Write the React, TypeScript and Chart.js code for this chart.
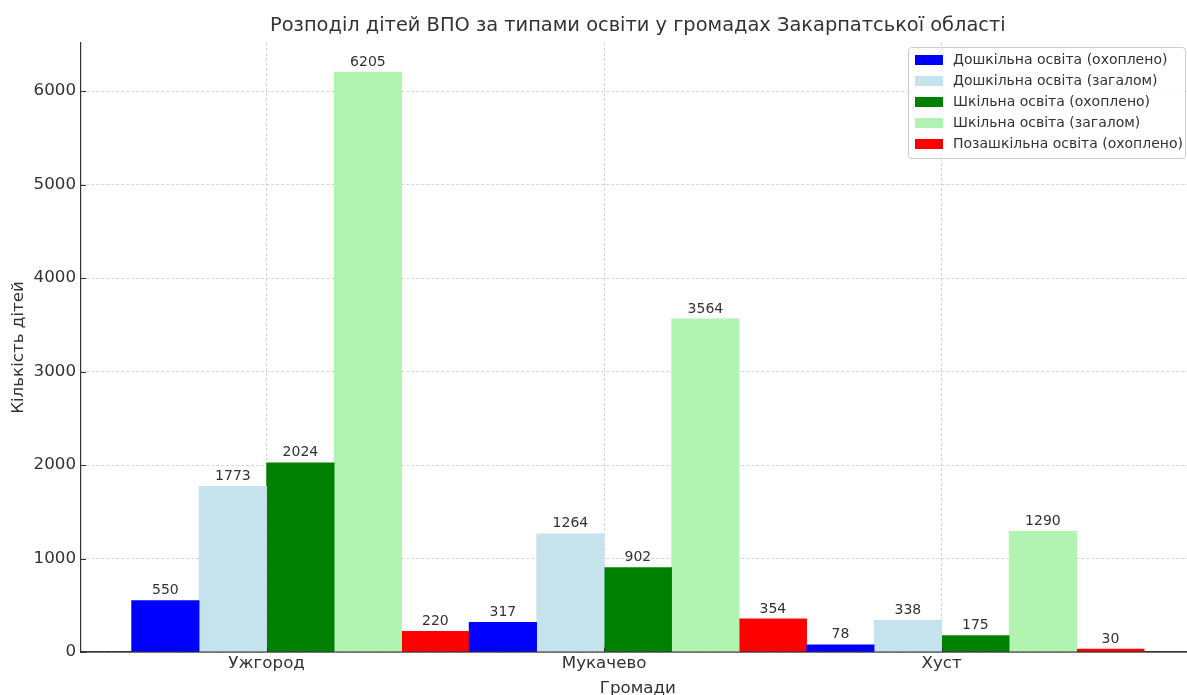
import React, { useEffect, useRef } from 'react';
import { Chart, registerables } from 'chart.js';

Chart.register(...registerables);

const chartTitle = 'Розподіл дітей ВПО за типами освіти у громадах Закарпатської області';
const xAxisTitle = 'Громади';
const yAxisTitle = 'Кількість дітей';

const categories = ['Ужгород', 'Мукачево', 'Хуст'];
const seriesNames = [
  'Дошкільна освіта (охоплено)',
  'Дошкільна освіта (загалом)',
  'Шкільна освіта (охоплено)',
  'Шкільна освіта (загалом)',
  'Позашкільна освіта (охоплено)',
];
const preschoolCovered = [550, 317, 78];
const preschoolTotal = [1773, 1264, 338];
const schoolCovered = [2024, 902, 175];
const schoolTotal = [6205, 3564, 1290];
const extracurricularCovered = [220, 354, 30];
const yTickValues = [0, 1000, 2000, 3000, 4000, 5000, 6000];
const seriesColors = ['#0000ff', '#c5e3ed', '#008000', '#b1f3b1', '#ff0000'];

const seriesValues = [preschoolCovered, preschoolTotal, schoolCovered, schoolTotal, extracurricularCovered];

const FONT = '"DejaVu Sans", sans-serif';
const TEXT = '#333333';
const X_MIN = -0.55;
const X_FULL_MAX = categories.length - 1 + 0.75; // matplotlib axis extent (partly cropped)
const X_VISIBLE_MAX = categories.length - 1 + 0.727;

export default function App() {
  const ref = useRef<HTMLCanvasElement>(null);

  useEffect(() => {
    const canvas = ref.current;
    if (!canvas) return;
    const n = seriesValues.length;
    const barWidth = 1 / n;
    const allMax = Math.max(...seriesValues.flat());

    const datasets = seriesValues.map((vals, k) => ({
      label: seriesNames[k],
      data: vals.map((v, i) => ({ x: i + (k - (n - 1) / 2 + 0.5) * barWidth, y: v })),
      backgroundColor: seriesColors[k],
      borderWidth: 0,
      grouped: false,
      barPercentage: 1,
      categoryPercentage: 1,
    }));

    const overlay = {
      id: 'overlay',
      afterDatasetsDraw(chart: any) {
        const ctx = chart.ctx;
        const area = chart.chartArea;
        const xs = chart.scales.x;
        const ys = chart.scales.y;
        ctx.save();
        // bottom spine over bars
        ctx.strokeStyle = TEXT;
        ctx.lineWidth = 1.2;
        ctx.beginPath();
        ctx.moveTo(area.left, area.bottom);
        ctx.lineTo(area.right, area.bottom);
        ctx.stroke();
        // inward tick marks
        ctx.lineWidth = 1;
        ctx.beginPath();
        xs.ticks.forEach((t: any) => {
          const px = Math.round(xs.getPixelForValue(t.value)) + 0.5;
          ctx.moveTo(px, area.bottom);
          ctx.lineTo(px, area.bottom - 4.5);
        });
        ys.ticks.forEach((t: any) => {
          const py = Math.round(ys.getPixelForValue(t.value)) + 0.5;
          ctx.moveTo(area.left, py);
          ctx.lineTo(area.left + 5, py);
        });
        ctx.stroke();

        // value labels
        ctx.font = `14px ${FONT}`;
        ctx.fillStyle = TEXT;
        ctx.textAlign = 'center';
        ctx.textBaseline = 'bottom';
        chart.data.datasets.forEach((_ds: any, k: number) => {
          const meta = chart.getDatasetMeta(k);
          meta.data.forEach((el: any, i: number) => {
            ctx.fillText(String(seriesValues[k][i]), el.x, el.y - 3);
          });
        });
        ctx.restore();
      },
      afterDraw(chart: any) {
        const ctx = chart.ctx;
        const area = chart.chartArea;
        const xs = chart.scales.x;
        const cx = xs.getPixelForValue((X_MIN + X_FULL_MAX) / 2);
        ctx.save();
        // title
        ctx.font = `19.4px ${FONT}`;
        ctx.fillStyle = TEXT;
        ctx.textAlign = 'center';
        ctx.textBaseline = 'alphabetic';
        ctx.fillText(chartTitle, cx, 31);

        // x axis title
        ctx.font = `16.7px ${FONT}`;
        ctx.fillText(xAxisTitle, cx, 693);

        // legend
        const bx = 908, by = 47, bw = 277, bh = 111;
        ctx.beginPath();
        if (ctx.roundRect) ctx.roundRect(bx + 0.5, by + 0.5, bw, bh, 3);
        else ctx.rect(bx + 0.5, by + 0.5, bw, bh);
        ctx.fillStyle = 'rgba(255,255,255,0.8)';
        ctx.fill();
        ctx.strokeStyle = '#cccccc';
        ctx.lineWidth = 1;
        ctx.stroke();

        ctx.font = `14px ${FONT}`;
        ctx.textAlign = 'left';
        ctx.textBaseline = 'middle';
        seriesNames.forEach((name, k) => {
          const cy = 60 + k * 21;
          ctx.fillStyle = seriesColors[k];
          ctx.fillRect(915, cy - 5, 28, 10);
          ctx.fillStyle = TEXT;
          ctx.fillText(name, 953, cy);
        });
        ctx.restore();
      },
    };

    const chart = new Chart(canvas, {
      type: 'bar',
      data: { datasets: datasets as any },
      options: {
        responsive: false,
        animation: false,
        layout: { padding: { top: 43, left: 0, right: 0, bottom: 0 } },
        plugins: {
          legend: { display: false },
          title: { display: false },
          tooltip: { enabled: false },
        },
        scales: {
          x: {
            type: 'linear',
            min: X_MIN,
            max: X_VISIBLE_MAX,
            offset: false,
            afterBuildTicks: (scale: any) => {
              scale.ticks = categories.map((_c, i) => ({ value: i }));
            },
            afterFit: (scale: any) => {
              scale.height = 43;
            },
            ticks: {
              callback: (v: any) => categories[v as number] ?? '',
              font: { family: FONT, size: 16.7 },
              color: TEXT,
              padding: 2,
              maxRotation: 0,
              autoSkip: false,
            },
            grid: {
              offset: false,
              color: '#cccccc',
              lineWidth: 0.8,
              drawTicks: false,
            },
            border: { display: true, color: TEXT, width: 1.2, dash: [3, 2] },
            title: { display: false },
          },
          y: {
            type: 'linear',
            min: 0,
            max: allMax * 1.05,
            afterBuildTicks: (scale: any) => {
              scale.ticks = yTickValues.map((v) => ({ value: v }));
            },
            afterFit: (scale: any) => {
              scale.width = 81;
            },
            ticks: {
              font: { family: FONT, size: 16.7 },
              color: TEXT,
              padding: 5,
              callback: (v: any) => String(v),
            },
            grid: {
              color: '#cccccc',
              lineWidth: 0.8,
              drawTicks: false,
            },
            border: { display: true, color: TEXT, width: 1.2, dash: [3, 2] },
            title: {
              display: true,
              text: yAxisTitle,
              font: { family: FONT, size: 16.7 },
              color: TEXT,
              padding: { top: 9, bottom: 0 },
            },
          },
        },
      },
      plugins: [overlay],
    });

    return () => chart.destroy();
  }, []);

  return (
    <div style={{ position: 'absolute', left: 0, top: 0, width: 1187, height: 695, background: '#fff' }}>
      <canvas ref={ref} width={1187} height={695} style={{ width: 1187, height: 695, display: 'block' }} />
    </div>
  );
}
